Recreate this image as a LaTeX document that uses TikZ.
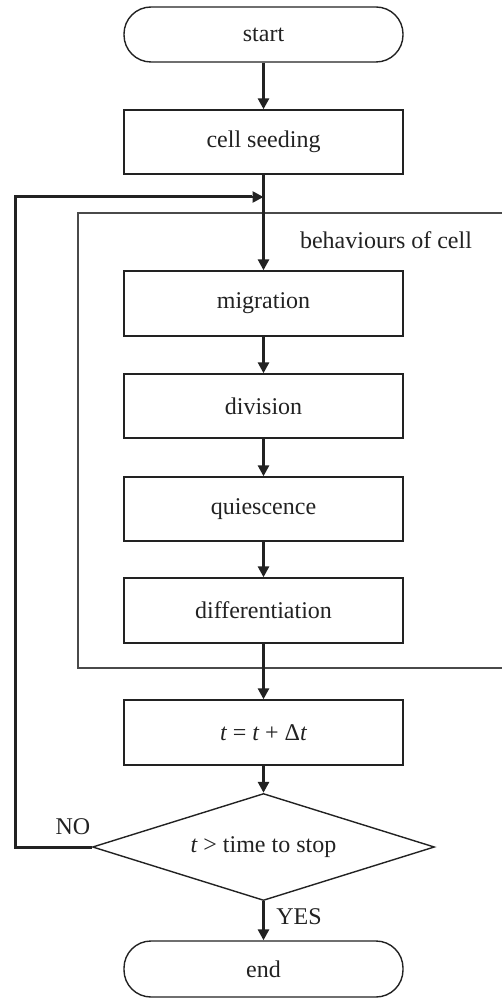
\documentclass[tikz,border=0pt]{standalone}
\usepackage{fontspec}
\setmainfont{Liberation Serif}
\usetikzlibrary{arrows.meta,shapes.geometric}
\definecolor{ink}{HTML}{222222}
\definecolor{frame}{HTML}{4A4A4A}
\begin{document}
\begin{tikzpicture}[x=1pt,y=-1pt,
  every node/.style={font=\fontsize{24}{28}\selectfont, text=ink},
  box/.style={draw=ink, line width=1.4pt, rectangle, minimum width=279pt, inner sep=0pt},
  term/.style={draw=ink, line width=1.4pt, rectangle, rounded corners=27pt, minimum width=279pt, inner sep=0pt},
  dec/.style={draw=ink, line width=1.4pt, diamond, aspect=3.2, minimum width=342pt, minimum height=107pt, inner sep=0pt},
  flow/.style={draw=ink, line width=2.8pt, -{Triangle[length=11pt,width=11pt]}},
  loopline/.style={draw=ink, line width=3pt},
  group/.style={draw=frame, line width=1.4pt}
]
\useasboundingbox (0,0) rectangle (502,1000);
% group frame
\draw[group] (505,213) -- (78,213) -- (78,668) -- (505,668);
\node (beh) at (386,240) {behaviours of cell};
% nodes
\node[term, minimum height=55pt] (start) at (263.5,34.5) {start};
\node[box, minimum height=64pt] (seed) at (263.5,142) {cell seeding};
\node[box, minimum height=65pt] (mig) at (263.5,303.5) {migration};
\node[box, minimum height=64pt] (div) at (263.5,406) {division};
\node[box, minimum height=64pt] (qui) at (263.5,509) {quiescence};
\node[box, minimum height=65pt] (dif) at (263.5,610.5) {differentiation};
\node[box, minimum height=65pt] (tt) at (263.5,732.5) {{\itshape t} = {\itshape t} + Δ{\itshape t}};
\node[dec] (dec) at (263.5,847) {{\itshape t} > time to stop};
\node[term, minimum height=56pt] (end) at (263.5,969) {end};
\node (no) at (73,827) {NO};
\node (yes) at (299,917) {YES};
% connectors
\draw[flow] (start) -- (seed);
\draw[flow] (seed) -- (mig);
\draw[flow] (mig) -- (div);
\draw[flow] (div) -- (qui);
\draw[flow] (qui) -- (dif);
\draw[flow] (dif) -- (tt);
\draw[flow] (tt) -- (dec);
\draw[flow] (dec) -- (end);
\coordinate (j) at (263.5,197);
\coordinate (lb) at (15,847);
\coordinate (lt) at (15,197);
\draw[loopline, line join=miter] (dec.west) -- (lb) -- (lt) -- ([xshift=-12pt]j);
\draw[flow, line width=2.6pt] ([xshift=-14pt]j) -- (j);
\end{tikzpicture}
\end{document}
